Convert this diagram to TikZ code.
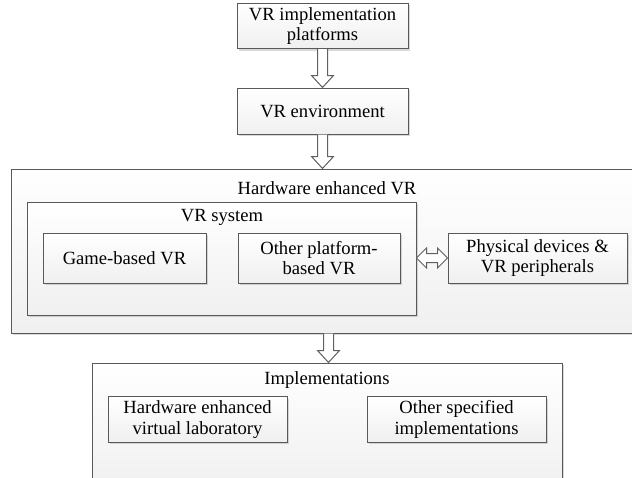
\documentclass[tikz,border=0pt]{standalone}
\usepackage{fontspec}
\setmainfont{Liberation Serif}
\usetikzlibrary{calc,shadows}

\newcommand{\hollowdown}[2]{%
  \draw[blockarrow] let \p1=(#1.south), \p2=(#2.north) in
    (\x1-2.5pt,\y1) -- (\x1-2.5pt,\y2+6pt) -- (\x1-5.5pt,\y2+6pt) -- (\x1,\y2)
    -- (\x1+5.5pt,\y2+6pt) -- (\x1+2.5pt,\y2+6pt) -- (\x1+2.5pt,\y1);}
\newcommand{\hollowboth}[2]{%
  \draw[blockarrow] let \p1=(#1.east), \p2=(#2.west) in
    (\x1,\y2) -- (\x1+5pt,\y2+5pt) -- (\x1+5pt,\y2+2.25pt) -- (\x2-5pt,\y2+2.25pt)
    -- (\x2-5pt,\y2+5pt) -- (\x2,\y2) -- (\x2-5pt,\y2-5pt) -- (\x2-5pt,\y2-2.25pt)
    -- (\x1+5pt,\y2-2.25pt) -- (\x1+5pt,\y2-5pt) -- cycle;}

\begin{document}
\begin{tikzpicture}[
  x=0.5pt,y=-0.5pt,
  font=\fontsize{9.3}{10.2}\selectfont,
  frame/.style={draw=gray!70!black,line width=0.5pt,top color=white,bottom color=gray!12,
    drop shadow={shadow xshift=1pt,shadow yshift=-1pt,opacity=.3}},
  box/.style={frame,align=center,inner sep=2pt,minimum height=25pt},
  blockarrow/.style={draw=gray!75!black,fill=white,line width=0.5pt,line join=miter}]
\useasboundingbox (0,0) rectangle (632,477);
\clip (0,0) rectangle (632,477);
\node[box,minimum width=85.5pt,minimum height=22pt] (plat) at (322.5,26) {VR implementation\\platforms};
\node[box,minimum width=85.5pt,minimum height=23pt] (env) at (322.5,111) {VR environment};
\node[frame,minimum width=317.5pt,minimum height=82pt] (hw) at (328.5,251) {};
\node (hwt) at (327,188) {Hardware enhanced VR};
\node[frame,minimum width=194.5pt,minimum height=56.5pt] (vrs) at (221.5,258.5) {};
\node (vrst) at (222,217) {VR system};
\node[box,minimum width=81.5pt] (game) at (124.5,258) {Game-based VR};
\node[box,minimum width=81pt] (other) at (319,258) {Other platform-\\based VR};
\node[box,minimum width=89.5pt] (phys) at (537.5,258) {Physical devices \&\\VR peripherals};
\node[frame,minimum width=235pt,minimum height=63.5pt] (impl) at (327,426.5) {};
\node (implt) at (327,380) {Implementations};
\node[box,minimum width=89.5pt,minimum height=22.5pt] (lab) at (197.5,419.5) {Hardware enhanced\\virtual laboratory};
\node[box,minimum width=89.5pt,minimum height=22.5pt] (spec) at (456.5,419.5) {Other specified\\implementations};
\hollowdown{plat}{env}
\hollowdown{env}{hw}
\hollowdown{hw}{impl}
\hollowboth{vrs}{phys}
\end{tikzpicture}
\end{document}
